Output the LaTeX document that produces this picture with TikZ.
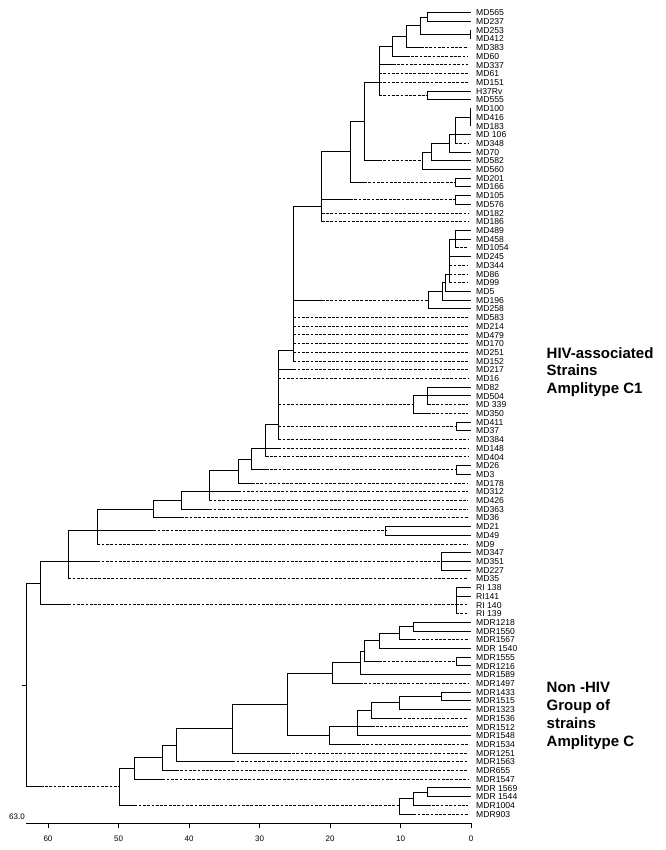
\documentclass[tikz,border=0pt]{standalone}
\usepackage{fontspec}
\setmainfont{Liberation Sans}
\newcommand\brS[2]{\draw[br] (#2,{rowy(#1)}) -- (470,{rowy(#1)});}
\newcommand\brD[3]{\draw[br] (#2,{rowy(#1)}) -- (#3,{rowy(#1)}); \draw[brd] (#3,{rowy(#1)}) -- (468,{rowy(#1)});}
\newcommand\brH[4]{\draw[br] (#2,{#1}) -- (#3,{#1}); \draw[brd] (#3,{#1}) -- (#4,{#1});}
\newcommand\brV[3]{\draw[br] (#1,{#2}) -- (#1,{#3});}
\begin{document}
\begin{tikzpicture}[x=1pt,y=-1pt,
  declare function={rowy(\n)=12.7+8.71*(\n-1);},
  br/.style={line width=1pt,line cap=rect},
  brd/.style={line width=1pt,dash pattern=on 2.8pt off 1.5pt},
  lab/.style={anchor=base west,inner sep=0pt,font=\fontsize{8.6}{10}\selectfont},
  big/.style={anchor=base west,inner sep=0pt,font=\fontsize{15}{18}\selectfont\bfseries},
  tick/.style={anchor=center,inner sep=0pt,font=\fontsize{8}{10}\selectfont}]
\fill[white] (0,0) rectangle (665,850);
\useasboundingbox (0,0) rectangle (665,850);
% leaf labels
\foreach \t [count=\i] in {MD565,MD237,MD253,MD412,MD383,MD60,MD337,MD61,MD151,H37Rv,MD555,MD100,MD416,MD183,MD 106,MD348,MD70,MD582,MD560,MD201,MD166,MD105,MD576,MD182,MD186,MD489,MD458,MD1054,MD245,MD344,MD86,MD99,MD5,MD196,MD258,MD583,MD214,MD479,MD170,MD251,MD152,MD217,MD16,MD82,MD504,MD 339,MD350,MD411,MD37,MD384,MD148,MD404,MD26,MD3,MD178,MD312,MD426,MD363,MD36,MD21,MD49,MD9,MD347,MD351,MD227,MD35,RI 138,RI141,RI 140,RI 139,MDR1218,MDR1550,MDR1567,MDR 1540,MDR1555,MDR1216,MDR1589,MDR1497,MDR1433,MDR1515,MDR1323,MDR1536,MDR1512,MDR1548,MDR1534,MDR1251,MDR1563,MDR655,MDR1547,MDR 1569,MDR 1544,MDR1004,MDR903}
  \node[lab] (l\i) at (476,{rowy(\i)+3.1}) {\t};
% group labels
\node[big] (h1) at (546.5,358) {HIV-associated};
\node[big] (h2) at (546.5,375.7) {Strains};
\node[big] (h3) at (546.5,393.4) {Amplitype C1};
\node[big] (n1) at (546.5,692.3) {Non -HIV};
\node[big] (n2) at (546.5,710.3) {Group of};
\node[big] (n3) at (546.5,728.3) {strains};
\node[big] (n4) at (546.5,746.3) {Amplitype C};
% ---- A
\brS{1}{427.7}\brS{2}{427.7}\brV{427.7}{rowy(1)}{rowy(2)}
\brV{470}{rowy(3)}{rowy(4)}
\brV{420.7}{17.06}{34.5}\brH{17.06}{420.7}{427.7}{427.7}\brH{34.5}{420.7}{470}{470}
\brV{406.7}{25.8}{rowy(5)}\brH{25.8}{406.7}{420.7}{420.7}\brD{5}{406.7}{420.7}
\brV{392.7}{36.7}{rowy(6)}\brH{36.7}{392.7}{406.7}{406.7}\brD{6}{392.7}{406.7}
\brV{427.7}{rowy(10)}{rowy(11)}\brS{10}{427.7}\brS{11}{427.7}
\brV{379}{46.5}{95.45}\brH{46.5}{379}{392.7}{392.7}\brD{7}{379}{392.7}\brD{8}{379}{379}\brD{9}{379}{379}\brH{95.45}{379}{379}{427.7}
% ---- B
\brV{470}{rowy(12)}{rowy(14)}
\brV{455}{rowy(13)}{rowy(16)}\brH{rowy(13)}{455}{470}{470}\brS{15}{455}\brD{16}{455}{455}
\brV{449.3}{rowy(15)}{rowy(17)}\brH{rowy(15)}{449.3}{455}{455}\brS{17}{449.3}
\brV{431}{rowy(16)}{rowy(18)}\brH{rowy(16)}{431}{449.3}{449.3}\brS{18}{431}
\brV{422.3}{152.1}{rowy(19)}\brH{152.1}{422.3}{431}{431}\brS{19}{422.3}
\brV{364}{rowy(9)}{rowy(18)}\brH{rowy(9)}{364}{379}{379}\brH{rowy(18)}{364}{379}{422.3}
\brV{455}{rowy(20)}{rowy(21)}\brS{20}{455}\brS{21}{455}
\brV{350}{121.6}{182.55}\brH{121.6}{350}{364}{364}\brH{182.55}{350}{364}{455}
\brV{455}{rowy(22)}{rowy(23)}\brS{22}{455}\brS{23}{455}
\brV{321.7}{152}{rowy(25)}\brH{152}{321.7}{350}{350}\brH{200}{321.7}{350}{455}\brD{24}{321.7}{321.7}\brD{25}{321.7}{321.7}
% ---- E
\brV{455.7}{rowy(26)}{rowy(28)}\brS{26}{455.7}\brS{27}{455.7}\brD{28}{455.7}{455.7}
\brV{449.3}{rowy(27)}{rowy(32)}\brH{rowy(27)}{449.3}{455.7}{455.7}\brS{29}{449.3}\brD{30}{449.3}{449.3}\brD{31}{449.3}{449.3}\brD{32}{449.3}{449.3}
\brV{445.3}{rowy(31)}{rowy(33)}\brH{rowy(31)}{445.3}{449.3}{449.3}\brS{33}{445.3}
\brV{442.7}{rowy(32)}{rowy(34)}\brH{rowy(32)}{442.7}{445.3}{445.3}\brS{34}{442.7}
\brV{428.5}{rowy(33)}{rowy(35)}\brH{rowy(33)}{428.5}{442.7}{442.7}\brS{35}{428.5}
\brV{293.3}{206.7}{rowy(41)}\brH{206.7}{293.3}{321.7}{321.7}\brH{rowy(34)}{293.3}{321.7}{428.5}
\foreach \k in {36,...,41}{\brD{\k}{293.3}{293.3}}
% ---- F, G, C5
\brV{427.7}{rowy(44)}{rowy(46)}\brS{44}{427.7}\brS{45}{427.7}\brD{46}{427.7}{427.7}
\brV{413.3}{rowy(45)}{rowy(47)}\brH{rowy(45)}{413.3}{427.7}{427.7}\brD{47}{413.3}{427.7}
\brV{456}{rowy(48)}{rowy(49)}\brS{48}{456}\brS{49}{456}
\brV{278.3}{350.7}{rowy(50)}\brH{350.7}{278.3}{293.3}{293.3}\brD{42}{278.3}{293.3}\brD{43}{278.3}{278.3}\brH{rowy(46)}{278.3}{278.3}{413.3}\brH{426.4}{278.3}{278.3}{456}\brD{50}{278.3}{278.3}
% ---- H, I
\brV{265.7}{424}{rowy(52)}\brH{424}{265.7}{278.3}{278.3}\brD{51}{265.7}{278.3}\brD{52}{265.7}{265.7}
\brV{456}{rowy(53)}{rowy(54)}\brS{53}{456}\brS{54}{456}
\brV{251.7}{rowy(51)}{469.95}\brH{rowy(51)}{251.7}{265.7}{265.7}\brH{469.95}{251.7}{265.7}{456}
\brV{238.3}{459}{rowy(55)}\brH{459}{238.3}{251.7}{251.7}\brD{55}{238.3}{251.7}
\brV{209.3}{470.6}{rowy(57)}\brH{470.6}{209.3}{238.3}{238.3}\brD{56}{209.3}{238.3}\brD{57}{209.3}{209.3}
\brV{181}{rowy(56)}{rowy(58)}\brH{rowy(56)}{181}{209.3}{209.3}\brD{58}{181}{209.3}
\brV{153.3}{500.4}{rowy(59)}\brH{500.4}{153.3}{181}{181}\brD{59}{153.3}{181}
\brV{385.7}{rowy(60)}{rowy(61)}\brS{60}{385.7}\brS{61}{385.7}
\brV{97.3}{509.1}{rowy(62)}\brH{509.1}{97.3}{153.3}{153.3}\brH{530.9}{97.3}{153.3}{385.7}\brD{62}{97.3}{97.3}
\brV{441.7}{rowy(63)}{rowy(65)}\brS{63}{441.7}\brS{64}{441.7}\brS{65}{441.7}
\brV{68.3}{530.9}{rowy(66)}\brH{530.9}{68.3}{97.3}{97.3}\brH{rowy(64)}{68.3}{97.3}{441.7}\brD{66}{68.3}{68.3}
\brV{456}{rowy(67)}{rowy(70)}\brS{67}{456}\brS{68}{456}\brD{69}{456}{456}\brD{70}{456}{456}
\brV{40.7}{rowy(64)}{rowy(69)}\brH{rowy(64)}{40.7}{68.3}{68.3}\brH{rowy(69)}{40.7}{68.3}{456}
% ---- MDR group
\brV{413.3}{rowy(71)}{rowy(72)}\brS{71}{413.3}\brS{72}{413.3}
\brV{399.3}{626.65}{rowy(73)}\brH{626.65}{399.3}{413.3}{413.3}\brD{73}{399.3}{413.3}
\brV{379}{633.2}{rowy(74)}\brH{633.2}{379}{399.3}{399.3}\brS{74}{379}
\brV{456}{rowy(75)}{rowy(76)}\brS{75}{456}\brS{76}{456}
\brV{364.3}{640.8}{661.45}\brH{640.8}{364.3}{379}{379}\brH{661.45}{364.3}{379}{456}
\brV{360}{651.1}{rowy(77)}\brH{651.1}{360}{364.3}{364.3}\brS{77}{360}
\brV{332.3}{662.85}{rowy(78)}\brH{662.85}{332.3}{360}{360}\brD{78}{332.3}{360}
\brV{441.7}{rowy(79)}{rowy(80)}\brS{79}{441.7}\brS{80}{441.7}
\brV{399.3}{696.35}{rowy(81)}\brH{696.35}{399.3}{441.7}{441.7}\brS{81}{399.3}
\brV{371.7}{702.9}{rowy(82)}\brH{702.9}{371.7}{399.3}{399.3}\brD{82}{371.7}{399.3}
\brV{357.7}{710.5}{rowy(84)}\brH{710.5}{357.7}{371.7}{371.7}\brD{83}{357.7}{371.7}\brS{84}{357.7}
\brV{329}{rowy(83)}{rowy(85)}\brH{rowy(83)}{329}{357.7}{357.7}\brD{85}{329}{357.7}
\brV{287.7}{673.1}{735.5}\brH{673.1}{287.7}{332.3}{332.3}\brH{735.5}{287.7}{329}{329}
\brV{232.3}{704.3}{rowy(86)}\brH{704.3}{232.3}{287.7}{287.7}\brD{86}{232.3}{287.7}
\brV{176}{728.65}{rowy(87)}\brH{728.65}{176}{232.3}{232.3}\brD{87}{176}{232.3}
\brV{162.3}{745.2}{rowy(88)}\brH{745.2}{162.3}{176}{176}\brD{88}{162.3}{176}
\brV{134.3}{757.75}{rowy(89)}\brH{757.75}{134.3}{162.3}{162.3}\brD{89}{134.3}{162.3}
\brV{427.7}{rowy(90)}{rowy(91)}\brS{90}{427.7}\brS{91}{427.7}
\brV{413.3}{792.15}{rowy(92)}\brH{792.15}{413.3}{427.7}{427.7}\brD{92}{413.3}{427.7}
\brV{399.3}{798.7}{rowy(93)}\brH{798.7}{399.3}{413.3}{413.3}\brD{93}{399.3}{413.3}
\brV{119.3}{768.4}{rowy(92)}\brH{768.4}{119.3}{134.3}{134.3}\brH{rowy(92)}{119.3}{134.3}{399.3}
% ---- root
\brV{26.7}{583.15}{786.8}\brH{583.15}{26.7}{40.7}{40.7}\brH{786.8}{26.7}{40.7}{119.3}
\draw[br] (22.7,685) -- (26.7,685);
% ---- axis
\draw[br] (26.7,823.3) -- (471,823.3);
\foreach \v [count=\k from 0] in {0,10,20,30,40,50,60}{
  \draw[br] ({471-70.5*\k},823.3) -- ({471-70.5*\k},827.8);
  \node[tick] (t\k) at ({471-70.5*\k},838.5) {\v};}
\node[tick,anchor=base east] (t63) at (25,819.3) {63.0};
\end{tikzpicture}
\end{document}
